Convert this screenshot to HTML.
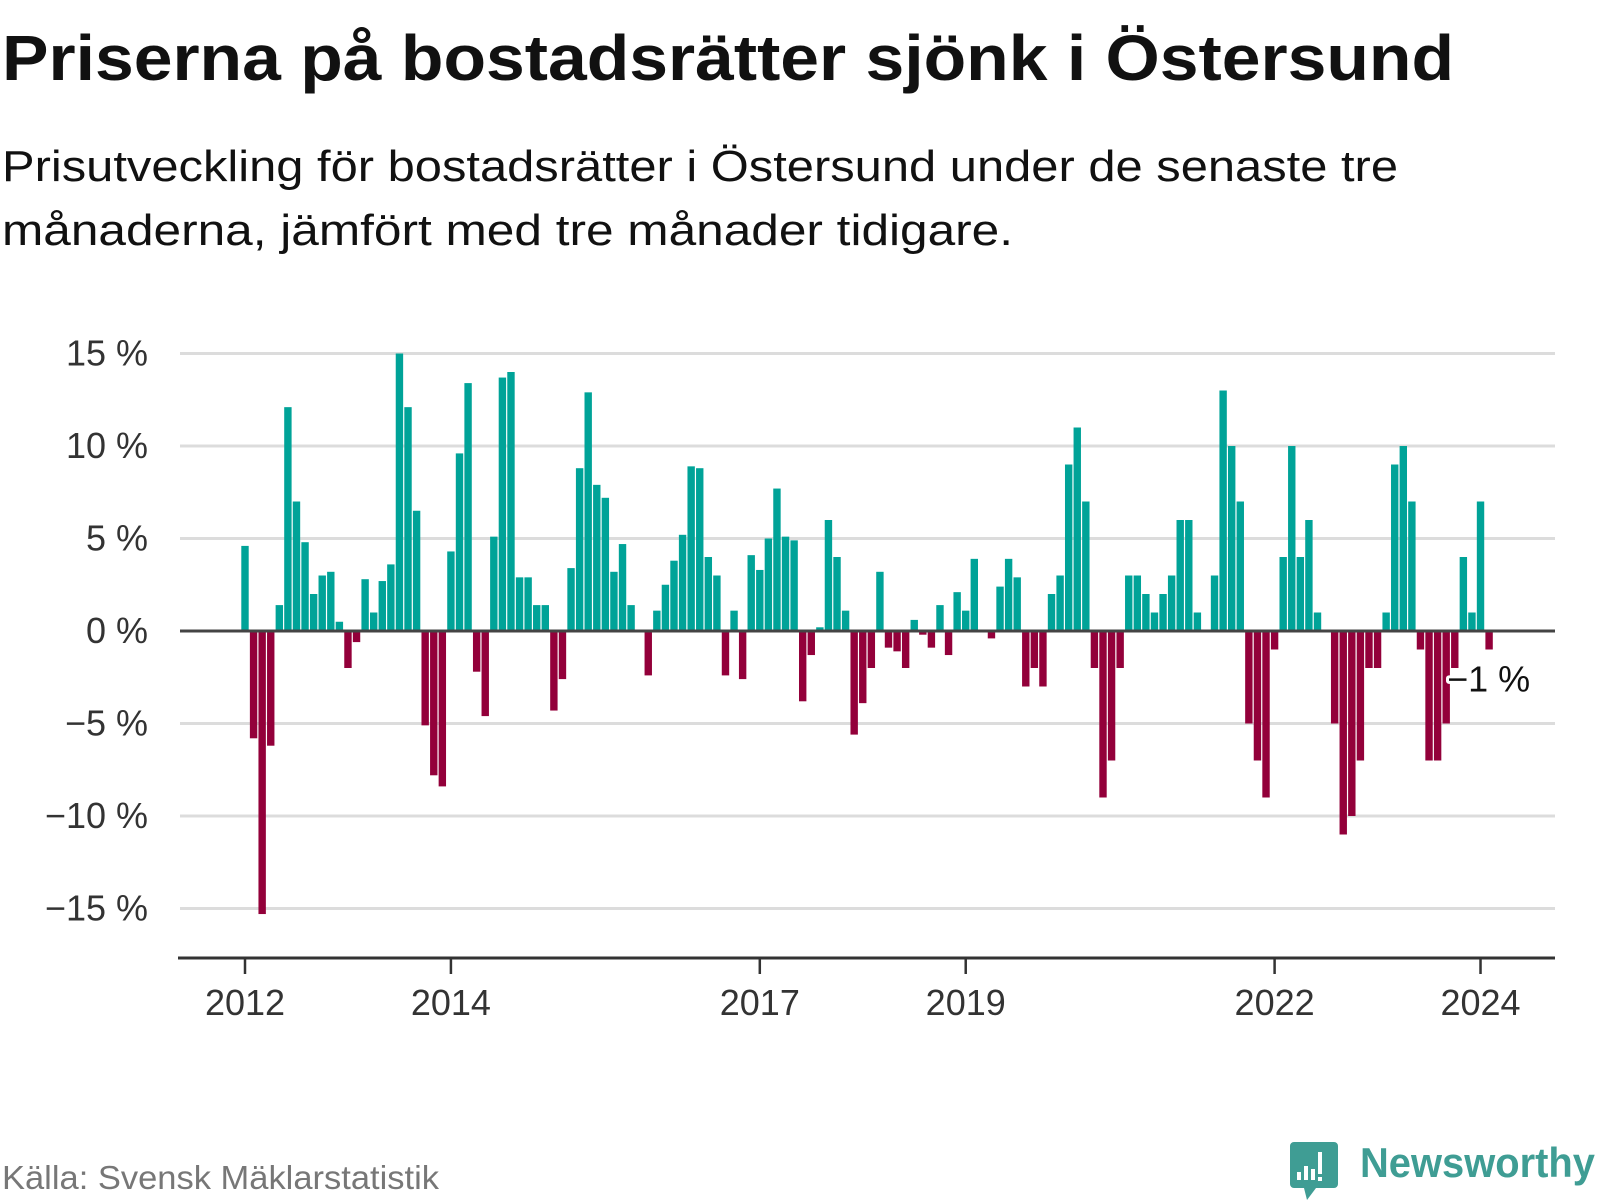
<!DOCTYPE html>
<html><head><meta charset="utf-8"><style>
html,body{margin:0;padding:0;background:#fff;}
svg{display:block;}
text{font-family:"Liberation Sans","DejaVu Sans",sans-serif;}
</style></head><body>
<svg id="chart" width="1600" height="1200" viewBox="0 0 1600 1200" xmlns="http://www.w3.org/2000/svg">
<text x="2" y="80" font-size="64" font-weight="bold" fill="#111" textLength="1452" lengthAdjust="spacingAndGlyphs">Priserna på bostadsrätter sjönk i Östersund</text>
<text x="2" y="181" font-size="44" fill="#111" textLength="1396" lengthAdjust="spacingAndGlyphs">Prisutveckling för bostadsrätter i Östersund under de senaste tre</text>
<text x="2" y="245" font-size="44" fill="#111" textLength="1011" lengthAdjust="spacingAndGlyphs">månaderna, jämfört med tre månader tidigare.</text>
<g id="grid"></g>
<g id="yaxis"></g>
<g id="bars"></g>
<g id="xaxis"></g>
<g id="annot"></g>
<text x="2" y="1189" font-size="33" fill="#777" textLength="437" lengthAdjust="spacingAndGlyphs">Källa: Svensk Mäklarstatistik</text>
<g>
  <path d="M1294 1142 h40 a4 4 0 0 1 4 4 v38 a4 4 0 0 1 -4 4 h-18 l-9 12 l-3 -12 h-10 a4 4 0 0 1 -4 -4 v-38 a4 4 0 0 1 4 -4z" fill="#3f9d94"/>
  <rect x="1297" y="1172" width="4" height="8" fill="#fff"/>
  <rect x="1304" y="1166" width="4" height="14" fill="#fff"/>
  <rect x="1311" y="1169" width="4" height="11" fill="#fff"/>
  <rect x="1318" y="1152" width="4" height="22" fill="#fff"/>
  <rect x="1318" y="1177" width="4" height="4" fill="#fff"/>
  <text x="1360" y="1177" font-size="42" font-weight="bold" fill="#3f9d94" textLength="235" lengthAdjust="spacingAndGlyphs">Newsworthy</text>
</g>
</svg>
<script>
const values = [4.6,-5.8,-15.3,-6.2,1.4,12.1,7.0,4.8,2.0,3.0,3.2,0.5,
-2.0,-0.6,2.8,1.0,2.7,3.6,15.0,12.1,6.5,-5.1,-7.8,-8.4,
4.3,9.6,13.4,-2.2,-4.6,5.1,13.7,14.0,2.9,2.9,1.4,1.4,
-4.3,-2.6,3.4,8.8,12.9,7.9,7.2,3.2,4.7,1.4,0,-2.4,
1.1,2.5,3.8,5.2,8.9,8.8,4.0,3.0,-2.4,1.1,-2.6,4.1,
3.3,5.0,7.7,5.1,4.9,-3.8,-1.3,0.2,6.0,4.0,1.1,-5.6,
-3.9,-2.0,3.2,-0.9,-1.1,-2.0,0.6,-0.2,-0.9,1.4,-1.3,2.1,
1.1,3.9,0,-0.4,2.4,3.9,2.9,-3,-2,-3,2,3,
9,11,7,-2,-9,-7,-2,3,3,2,1,2,
3,6,6,1,0,3,13,10,7,-5,-7,-9,
-1,4,10,4,6,1,0,-5,-11,-10,-7,-2,
-2,1,9,10,7,-1,-7,-7,-5,-2,4,1,
7,-1];
const startYear = 2012;
const yTicks = [15,10,5,0,-5,-10,-15];
const yTickLabels = ["15 %","10 %","5 %","0 %","\u22125 %","\u221210 %","\u221215 %"];
const xTickYears = [2012,2014,2017,2019,2022,2024];
const lastLabel = "\u22121 %";

const NS = "http://www.w3.org/2000/svg";
const X0 = 245, MW = 8.58, Y0 = 631, PY = 18.5;
function xScale(m){ return X0 + m*MW; }
function yScale(v){ return Y0 - v*PY; }
function mk(tag, attrs, parent){
  const el = document.createElementNS(NS, tag);
  for (const k in attrs) el.setAttribute(k, attrs[k]);
  parent.appendChild(el);
  return el;
}
const grid = document.getElementById('grid');
const yaxis = document.getElementById('yaxis');
yTicks.forEach((t,i)=>{
  if (t !== 0) {
    const l = mk('line',{x1:180,x2:1555,y1:yScale(t),y2:yScale(t),stroke:'#dcdcdc','stroke-width':3},grid);
    
    
  }
  const tx = mk('text',{x:148,y:yScale(t)+12,'text-anchor':'end','font-size':36,fill:'#333'},yaxis);
  tx.textContent = yTickLabels[i];
  
  
});
const bars = document.getElementById('bars');
values.forEach((v,m)=>{
  if (v === 0) return;
  const y = v > 0 ? yScale(v) : Y0;
  const h = Math.abs(yScale(v) - Y0);
  const r = mk('rect',{x:xScale(m)-3.7,y:y,width:7.4,height:h,fill: v>0 ? '#00a398' : '#93003a'},bars);
  
  
});
const zl = mk('line',{x1:180,x2:1555,y1:Y0,y2:Y0,stroke:'#444','stroke-width':3},bars);


const xaxis = document.getElementById('xaxis');
const al = mk('line',{x1:178,x2:1555,y1:958,y2:958,stroke:'#333','stroke-width':3},xaxis);


xTickYears.forEach(yr=>{
  const xm = xScale((yr-startYear)*12);
  const tk = mk('line',{x1:xm,x2:xm,y1:958,y2:974,stroke:'#333','stroke-width':2.5},xaxis);
  
  
  const tx = mk('text',{x:xm,y:1015,'text-anchor':'middle','font-size':36,fill:'#333'},xaxis);
  tx.textContent = String(yr);
  
  
});
const annot = document.getElementById('annot');
const lastM = values.length - 1;
const at = mk('text',{x:xScale(lastM)-42,y:yScale(values[lastM])+42,'font-size':36,fill:'#111',stroke:'#fff','stroke-width':6,'paint-order':'stroke','stroke-linejoin':'round'},annot);
at.textContent = lastLabel;


</script>
</body></html>
